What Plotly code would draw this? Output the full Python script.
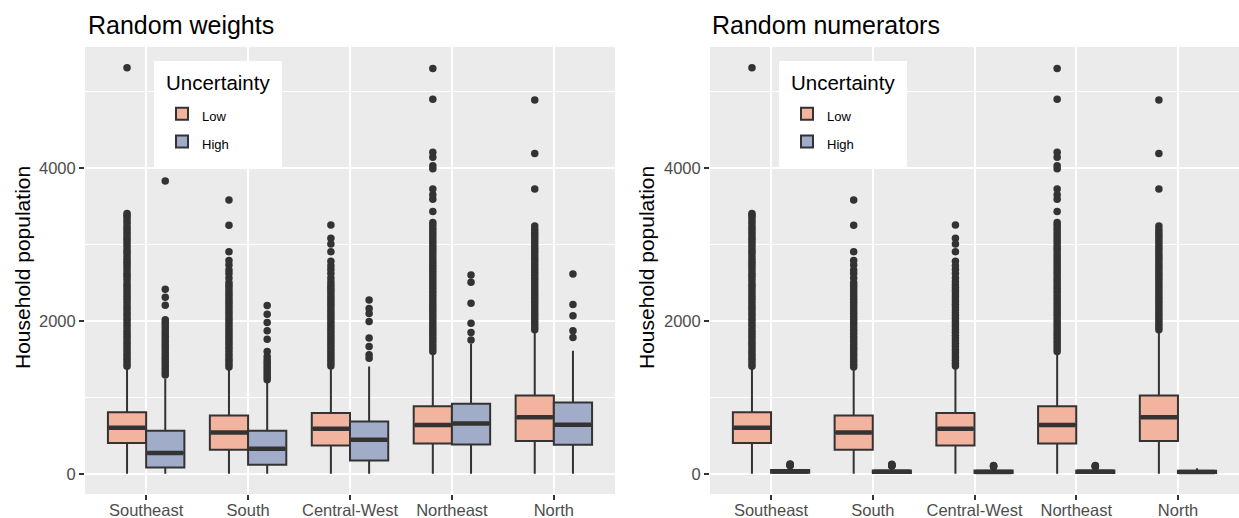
import plotly.graph_objects as go

regions = ["Southeast", "South", "Central-West", "Northeast", "North"]
panel_titles = ["Random weights", "Random numerators"]

# Low uncertainty: identical in both panels
low_q1 = [401, 314, 370, 396, 427]
low_median = [600, 540, 590, 638, 738]
low_q3 = [804, 762, 793, 882, 1024]
low_lower = [0, 0, 0, 0, 0]
low_upper = [1370, 1360, 1380, 1560, 1845]

# High uncertainty, random weights
wt_high_q1 = [80, 118, 174, 383, 379]
wt_high_median = [270, 327, 444, 658, 640]
wt_high_q3 = [562, 562, 684, 915, 932]
wt_high_lower = [0, 0, 0, 0, 0]
wt_high_upper = [1240, 1190, 1403, 1700, 1608]

# High uncertainty, random numerators
num_high_q1 = [12, 10, 10, 10, 10]
num_high_median = [28, 25, 24, 25, 22]
num_high_q3 = [48, 44, 42, 44, 40]
num_high_lower = [0, 0, 0, 0, 0]
num_high_upper = [100, 95, 86, 88, 72]

# Outlying households, one list per region
low_outliers = [
    [1405, 1440, 1478, 1512, 1550, 1585, 1621, 1660, 1698, 1730, 1771, 1808, 1845, 1880,
     1922, 1960, 1997, 2030, 2072, 2110, 2148, 2181, 2220, 2260, 2296, 2330, 2371, 2410,
     2447, 2480, 2522, 2560, 2596, 2630, 2671, 2710, 2748, 2781, 2820, 2860, 2896, 2930,
     2972, 3010, 3047, 3080, 3120, 3160, 3198, 3230, 3272, 3310, 3348, 3380, 3405, 5310],
    [1395, 1432, 1470, 1505, 1544, 1580, 1617, 1652, 1690, 1728, 1763, 1800, 1838, 1875,
     1910, 1948, 1985, 2022, 2058, 2095, 2133, 2170, 2206, 2243, 2280, 2318, 2355, 2391,
     2428, 2465, 2500, 2560, 2620, 2665, 2730, 2790, 2905, 3250, 3580],
    [1410, 1446, 1483, 1520, 1556, 1592, 1630, 1667, 1702, 1740, 1776, 1813, 1850, 1886,
     1922, 1960, 1996, 2033, 2070, 2106, 2143, 2180, 2216, 2252, 2290, 2326, 2363, 2400,
     2436, 2472, 2510, 2560, 2620, 2670, 2720, 2780, 2905, 3005, 3080, 3255],
    [1600, 1637, 1675, 1712, 1750, 1787, 1825, 1862, 1900, 1937, 1975, 2012, 2050, 2087,
     2125, 2162, 2200, 2237, 2275, 2312, 2350, 2387, 2425, 2462, 2500, 2537, 2575, 2612,
     2650, 2687, 2725, 2762, 2800, 2837, 2875, 2912, 2950, 2987, 3025, 3062, 3100, 3137,
     3175, 3212, 3250, 3285, 3430, 3590, 3650, 3725, 3990, 4030, 4140, 4205, 4900, 5300],
    [1882, 1920, 1957, 1995, 2032, 2070, 2107, 2145, 2182, 2220, 2257, 2295, 2332, 2370,
     2407, 2445, 2482, 2520, 2557, 2595, 2632, 2670, 2707, 2745, 2782, 2820, 2857, 2895,
     2932, 2970, 3007, 3045, 3082, 3120, 3157, 3195, 3240, 3725, 4190, 4890],
]
wt_high_outliers = [
    [1290, 1325, 1362, 1398, 1435, 1470, 1508, 1545, 1580, 1617, 1653, 1690, 1726, 1762,
     1800, 1836, 1872, 1910, 1946, 1980, 2013, 2204, 2309, 2414, 3830],
    [1230, 1262, 1295, 1328, 1360, 1392, 1425, 1458, 1490, 1533, 1599, 1760, 1869, 1978,
     2087, 2200],
    [1512, 1555, 1664, 1774, 1991, 2095, 2160, 2274],
    [1751, 1847, 1970, 2231, 2505, 2601],
    [1781, 1869, 2065, 2213, 2614],
]
num_high_outliers = [
    [104, 110, 116, 122, 127],
    [100, 106, 112, 118, 123],
    [92, 97, 102, 107],
    [92, 97, 102, 108],
    [],
]

FILL_LOW = "#F2B39F"
FILL_HIGH = "#A1ADC8"
INK = "#333333"
FONT = "Liberation Sans, Arial, sans-serif"
W, H = 1239, 518
BOX_W = 0.375          # dodged box width in category units
OFFSET = BOX_W / 2

panels = [
    dict(high=(wt_high_q1, wt_high_median, wt_high_q3, wt_high_lower, wt_high_upper),
         high_out=wt_high_outliers),
    dict(high=(num_high_q1, num_high_median, num_high_q3, num_high_lower, num_high_upper),
         high_out=num_high_outliers),
]
low_stats = (low_q1, low_median, low_q3, low_lower, low_upper)

fig = go.Figure()

for p, panel in enumerate(panels):
    xa = "x" if p == 0 else "x2"
    ya = "y" if p == 0 else "y2"
    legend_id = "legend" if p == 0 else "legend2"
    series = [("Low", FILL_LOW, low_stats, low_outliers, -OFFSET),
              ("High", FILL_HIGH, panel["high"], panel["high_out"], OFFSET)]
    for name, fill, stats, outs, shift in series:
        q1, med, q3, lo, hi = stats
        pos = [i + shift for i in range(len(regions))]
        fig.add_trace(go.Box(
            x=pos, q1=q1, median=med, q3=q3, lowerfence=lo, upperfence=hi,
            width=BOX_W, name='<span style="font-size:13px">%s</span>' % name,
            legendgroup=name, legend=legend_id,
            fillcolor=fill, line=dict(color=INK, width=2), whiskerwidth=0,
            boxpoints=False, hoverinfo="skip", xaxis=xa, yaxis=ya,
        ))
        # thicker median bars
        mx, my = [], []
        for xc, m in zip(pos, med):
            mx += [xc - OFFSET + 0.01, xc + OFFSET - 0.01, None]
            my += [m, m, None]
        fig.add_trace(go.Scatter(
            x=mx, y=my, mode="lines", line=dict(color=INK, width=4.5),
            showlegend=False, hoverinfo="skip", xaxis=xa, yaxis=ya,
        ))
        # outlying points
        ox, oy = [], []
        for xc, vals in zip(pos, outs):
            ox += [xc] * len(vals)
            oy += vals
        fig.add_trace(go.Scatter(
            x=ox, y=oy, mode="markers",
            marker=dict(color=INK, size=7.5, line=dict(width=0)),
            showlegend=False, hoverinfo="skip", xaxis=xa, yaxis=ya,
        ))

x_domains = [[85 / W, 615 / W], [710 / W, 1.0]]
y_domain = [(H - 494) / H, (H - 47) / H]

axis_common = dict(
    showline=False, zeroline=False, gridcolor="white", gridwidth=2,
    ticks="outside", ticklen=5, tickwidth=1.5, tickcolor=INK, automargin=False,
    tickfont=dict(family=FONT, size=16.5, color="#4D4D4D"),
)

for p in range(2):
    sfx = "" if p == 0 else str(p + 1)
    fig.update_layout(**{
        "xaxis" + sfx: dict(
            axis_common, domain=x_domains[p], range=[-0.6, 4.6],
            tickvals=list(range(len(regions))), ticktext=regions,
            anchor="y" + sfx, ticklabelstandoff=-4,
        ),
        "yaxis" + sfx: dict(
            axis_common, domain=y_domain, range=[-265, 5582],
            tickvals=[0, 2000, 4000], anchor="x" + sfx,
            minor=dict(tickvals=[1000, 3000, 5000], showgrid=True,
                       gridcolor="white", gridwidth=1, ticks=""),
        ),
    })

# Legend panels: white backing boxes, a title, and the legend entries laid over them
legend_left = [154, 779]
legend_box_w, legend_top, legend_bottom = 128, 61, 167
shapes = []
for lx in legend_left:
    shapes.append(dict(
        type="rect", xref="paper", yref="paper", layer="above",
        x0=lx / W, x1=(lx + legend_box_w) / W,
        y0=1 - legend_bottom / H, y1=1 - legend_top / H,
        fillcolor="white", line=dict(width=0),
    ))

legend_common = dict(
    bgcolor="rgba(0,0,0,0)", borderwidth=0, yanchor="top", xanchor="left",
    font=dict(family=FONT, size=19, color="black"),
    tracegroupgap=2, traceorder="normal",
)
legend_y = 1 - 95 / H
fig.update_layout(
    legend=dict(legend_common, x=(legend_left[0] + 8) / W, y=legend_y),
    legend2=dict(legend_common, x=(legend_left[1] + 8) / W, y=legend_y),
    shapes=shapes,
)

annotations = []
for p, title in enumerate(panel_titles):
    left_px = [86, 710][p]
    annotations.append(dict(
        text=title, x=left_px / W, y=1 - 25 / H, xref="paper", yref="paper",
        xanchor="left", yanchor="middle", showarrow=False,
        font=dict(family=FONT, size=25, color="black"),
    ))
    annotations.append(dict(
        text="Household population", x=[22, 646][p] / W, y=1 - 268 / H,
        xref="paper", yref="paper", xanchor="center", yanchor="middle",
        textangle=-90, showarrow=False,
        font=dict(family=FONT, size=21, color="black"),
    ))
    annotations.append(dict(
        text="Uncertainty", x=(legend_left[p] + 10) / W, y=1 - 82 / H,
        xref="paper", yref="paper", xanchor="left", yanchor="middle",
        showarrow=False, font=dict(family=FONT, size=20.5, color="black"),
    ))

fig.update_layout(
    width=W, height=H, margin=dict(l=0, r=0, t=0, b=0),
    paper_bgcolor="white", plot_bgcolor="#EBEBEB",
    annotations=annotations, boxmode="overlay",
    font=dict(family=FONT),
)

fig.write_html("out.html")
